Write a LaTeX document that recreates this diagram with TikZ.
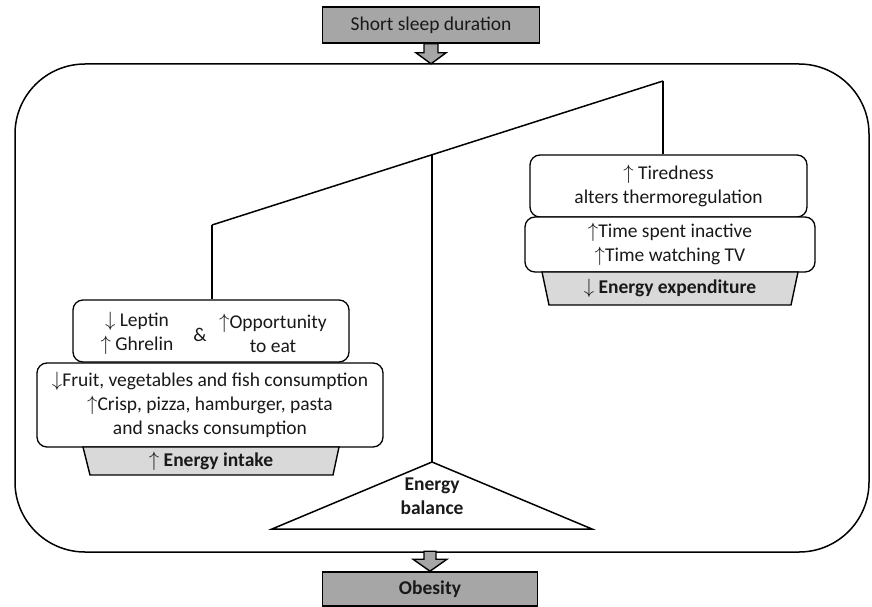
\documentclass[tikz,border=0pt]{standalone}
\usepackage{fontspec}
\setmainfont{Carlito}
\newcommand{\upa}{\ensuremath{\uparrow}}
\newcommand{\dna}{\ensuremath{\downarrow}}
\definecolor{boxgray}{RGB}{166,166,166}
\definecolor{tabgray}{RGB}{217,217,217}
\definecolor{ink}{RGB}{25,25,25}
\tikzset{
  txt/.style={font=\fontsize{19.5}{24}\selectfont, text=ink, align=center, inner sep=0pt},
  btxt/.style={txt, font=\fontsize{19.5}{24}\selectfont\bfseries},
  graybox/.style={draw, line width=1.6pt, fill=boxgray, txt},
  roundbox/.style={draw, line width=1.3pt, fill=white, rounded corners=10pt, txt},
  tab/.style={draw, line width=1.4pt, fill=tabgray},
  blockarrow/.style={draw, line width=1.4pt, fill=boxgray, line join=miter},
  beam/.style={line width=1.5pt},
}
\begin{document}
\begin{tikzpicture}[x=1pt,y=-1pt]
\useasboundingbox (0,0) rectangle (872,607);

% outer frame
\node[draw, line width=1.5pt, rounded corners=70pt, minimum width=854pt, minimum height=488pt] (frame) at (442,308) {};

% cause and outcome boxes
\node[graybox, minimum width=217pt, minimum height=36pt] (sleep) at (431,25) {Short sleep duration};
\node[graybox, minimum width=215pt, minimum height=34pt] (obesity) at (430,589) {\bfseries Obesity};

% block arrows into and out of the frame
\draw[blockarrow] ([xshift=-7pt]sleep.south) -- ++(0,9) -- ++(-8,0) -- ++(15,11)
  -- ++(15,-11) -- ++(-8,0) -- ++(0,-9) -- cycle;
\draw[blockarrow] (obesity.north) -- ++(-17,-12) -- ++(11,0) -- ++(0,-8)
  -- ++(12,0) -- ++(0,8) -- ++(11,0) -- cycle;

% balance: beam, post and fulcrum
\coordinate (L) at (212,225);
\coordinate (R) at (663,81);
\coordinate (P) at (432,155);
\coordinate (apex) at (432,462);
\coordinate (baseL) at (272,529);
\coordinate (baseR) at (592,529);
\draw[beam] (L) -- (R);
\draw[beam] (P) -- (apex);
\draw[beam, line join=miter] (apex) -- (baseL) -- (baseR) -- cycle;
\node[btxt] (balance) at (432,496) {Energy\\balance};

% left pan: energy intake
\node[roundbox, minimum width=276pt, minimum height=62pt] (lu) at (211,331) {};
\node[txt] (hormones) at (137,333) {\dna\ Leptin\\\upa\ Ghrelin};
\node[txt] (amp) at (200,335) {\&};
\node[txt] (opportunity) at (273,333) {\upa Opportunity\\to eat};
\node[roundbox, minimum width=346pt, minimum height=84pt] (ll) at (210,405)
  {\dna Fruit, vegetables and fish consumption\\\upa Crisp, pizza, hamburger, pasta\\and snacks consumption};
\coordinate (it1) at (83,447);
\coordinate (it2) at (339,447);
\coordinate (it3) at (333,475);
\coordinate (it4) at (90,475);
\draw[tab] (it1) -- (it2) -- (it3) -- (it4) -- cycle;
\node[btxt] (intake) at (211,461) {\upa\ Energy intake};
\draw[beam] (L) -- (L |- lu.north);

% right pan: energy expenditure
\node[roundbox, minimum width=277pt, minimum height=62pt] (ru) at (668.5,186) {\upa\ Tiredness\\alters thermoregulation};
\node[roundbox, minimum width=290pt, minimum height=55pt] (rl) at (670,244.5) {\upa Time spent inactive\\\upa Time watching TV};
\coordinate (et1) at (542,272);
\coordinate (et2) at (798,272);
\coordinate (et3) at (791,305);
\coordinate (et4) at (549,305);
\draw[tab] (et1) -- (et2) -- (et3) -- (et4) -- cycle;
\node[btxt] (expenditure) at (670,288) {\dna\ Energy expenditure};
\draw[beam] (R) -- (R |- ru.north);
\end{tikzpicture}
\end{document}
